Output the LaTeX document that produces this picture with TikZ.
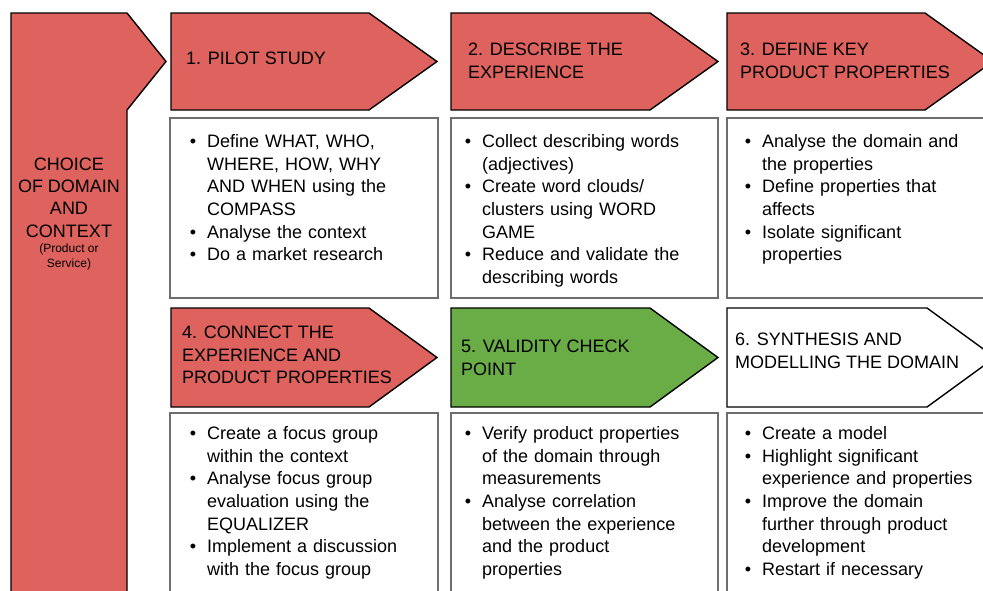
\documentclass[tikz,border=0pt]{standalone}
\usepackage{fontspec}
\setmainfont{Liberation Sans}
\usepackage{enumitem}
\definecolor{stepred}{RGB}{222,99,94}
\definecolor{stepgreen}{RGB}{106,172,69}
\definecolor{boxgray}{RGB}{110,110,110}
\setlist[itemize]{label=\textbullet, leftmargin=16pt, labelsep=11pt, topsep=0pt, partopsep=0pt, itemsep=0pt, parsep=0pt}
\tikzset{
    steparrow/.style={draw=black, line width=1.4pt, line join=miter},
    stepbox/.style={draw=boxgray, line width=1.6pt},
    steptitle/.style={anchor=west, inner sep=0pt, align=left, font=\fontsize{18}{22.7}\selectfont},
    steplist/.style={anchor=north west, inner sep=0pt, text width=300pt, font=\fontsize{18}{22.7}\selectfont}
}

\begin{document}
\begin{tikzpicture}[x=1pt, y=-1pt]
        \useasboundingbox (0,0) rectangle (983,590);

        % Domain and context column
        \draw[steparrow, fill=stepred] (11,13) -- (127,13) -- (166,61.5) -- (127,110) -- (127,600) -- (11,600) -- cycle;
        \node[anchor=north, inner sep=0pt, align=center, font=\fontsize{18}{22.3}\selectfont] (choice) at (69,157.5) {
            CHOICE\\OF DOMAIN\\AND\\CONTEXT
        };
        \node[anchor=north, inner sep=0pt, align=center, font=\fontsize{12}{15}\selectfont] (choicenote) at (69,244) {
            (Product or\\Service)
        };

        % Step 1
        \draw[steparrow, fill=stepred] (171,13) -- (369,13) -- (437,61.5) -- (369,110) -- (171,110) -- cycle;
        \node[steptitle] (title1) at (186,58.5) {1. PILOT STUDY};
        \draw[stepbox] (170,118) rectangle (438,298);
        \node[steplist] (list1) at (191,124.5) {
            \begin{itemize}
                \item Define WHAT, WHO,\newline WHERE, HOW, WHY\newline AND WHEN using the\newline COMPASS
                \item Analyse the context
                \item Do a market research
            \end{itemize}
        };

        % Step 2
        \draw[steparrow, fill=stepred] (451,13) -- (650,13) -- (718,61.5) -- (650,110) -- (451,110) -- cycle;
        \node[steptitle] (title2) at (468,60.5) {2. DESCRIBE THE\\EXPERIENCE};
        \draw[stepbox] (451,118) rectangle (718,298);
        \node[steplist] (list2) at (466,124.5) {
            \begin{itemize}
                \item Collect describing words\newline (adjectives)
                \item Create word clouds/\newline clusters using WORD\newline GAME
                \item Reduce and validate the\newline describing words
            \end{itemize}
        };

        % Step 3
        \draw[steparrow, fill=stepred] (727,13) -- (925,13) -- (993,61.5) -- (925,110) -- (727,110) -- cycle;
        \node[steptitle] (title3) at (740,60.5) {3. DEFINE KEY\\PRODUCT PROPERTIES};
        \draw[stepbox] (727,118) rectangle (995,298);
        \node[steplist] (list3) at (746,124.5) {
            \begin{itemize}
                \item Analyse the domain and\newline the properties
                \item Define properties that\newline affects
                \item Isolate significant\newline properties
            \end{itemize}
        };

        % Step 4
        \draw[steparrow, fill=stepred] (171,308) -- (369,308) -- (437,357.5) -- (369,407) -- (171,407) -- cycle;
        \node[steptitle] (title4) at (182,355) {4. CONNECT THE\\EXPERIENCE AND\\PRODUCT PROPERTIES};
        \draw[stepbox] (170,413) rectangle (438,600);
        \node[steplist] (list4) at (191,416.5) {
            \begin{itemize}
                \item Create a focus group\newline within the context
                \item Analyse focus group\newline evaluation using the\newline EQUALIZER
                \item Implement a discussion\newline with the focus group
            \end{itemize}
        };

        % Step 5 (check point)
        \draw[steparrow, fill=stepgreen] (451,308) -- (650,308) -- (718,357.5) -- (650,407) -- (451,407) -- cycle;
        \node[steptitle] (title5) at (461,358) {5. VALIDITY CHECK\\POINT};
        \draw[stepbox] (451,413) rectangle (718,600);
        \node[steplist] (list5) at (466,416.5) {
            \begin{itemize}
                \item Verify product properties\newline of the domain through\newline measurements
                \item Analyse correlation\newline between the experience\newline and the product\newline properties
            \end{itemize}
        };

        % Step 6
        \draw[steparrow, fill=white] (727,308) -- (927,308) -- (995,357.5) -- (927,407) -- (727,407) -- cycle;
        \node[steptitle] (title6) at (735,351) {6. SYNTHESIS AND\\MODELLING THE DOMAIN};
        \draw[stepbox] (727,413) rectangle (995,600);
        \node[steplist] (list6) at (746,416.5) {
            \begin{itemize}
                \item Create a model
                \item Highlight significant\newline experience and properties
                \item Improve the domain\newline further through product\newline development
                \item Restart if necessary
            \end{itemize}
        };

    \end{tikzpicture}
\end{document}
